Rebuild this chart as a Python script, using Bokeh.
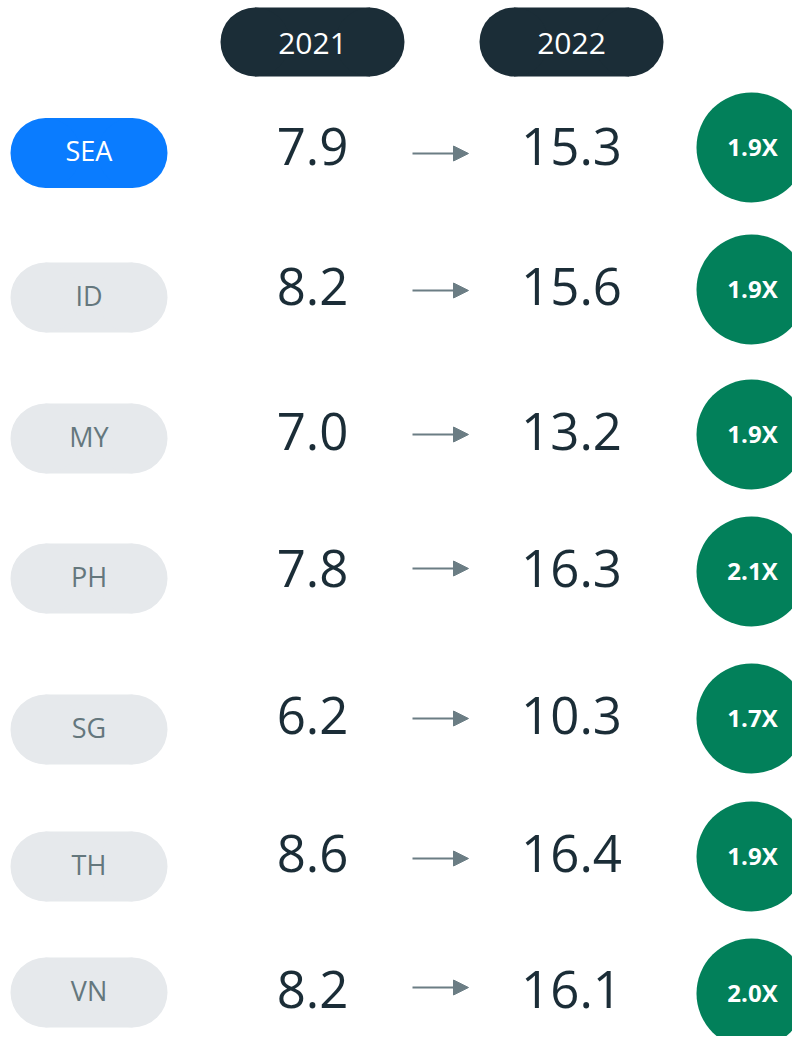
from bokeh.plotting import figure
from bokeh.models import Range1d, ColumnDataSource, Arrow, NormalHead
from bokeh.embed import file_html
from bokeh.resources import INLINE
from bokeh.core.properties import value

# ---- data ----
regions = ["SEA", "ID", "MY", "PH", "SG", "TH", "VN"]
values_2021 = [7.9, 8.2, 7.0, 7.8, 6.2, 8.6, 8.2]
values_2022 = [15.3, 15.6, 13.2, 16.3, 10.3, 16.4, 16.1]
growth = ["1.9X", "1.9X", "1.9X", "2.1X", "1.7X", "1.9X", "2.0X"]
years = ["2021", "2022"]

# ---- layout (screen pixel coordinates) ----
pill_y = [152.5, 297, 438, 578, 729, 866, 992]
val_y = [146, 286, 431, 568, 715, 853, 989]
arrow_y = [153, 290, 434, 568, 718, 858, 987]
circ_y = [147, 289, 434, 571, 718, 856, 993]
col_x = [312, 571]

FONT = "Open Sans"
DARK = "#1b2d37"
W, H = 792, 1036

p = figure(width=W, height=H, x_range=Range1d(0, W), y_range=Range1d(H, 0),
           output_backend="svg", toolbar_location=None, min_border=0)
p.axis.visible = False
p.grid.visible = False
p.outline_line_color = None
p.background_fill_color = "white"
p.border_fill_color = "white"

def pill(xc, yc, w, h, color):
    r = h / 2.0
    p.rect(x=xc, y=yc, width=w - h, height=h, fill_color=color, line_color=None)
    p.circle(x=[xc - (w - h) / 2, xc + (w - h) / 2], y=[yc, yc], radius=r,
             fill_color=color, line_color=None)

# header pills
for xc in col_x:
    pill(xc, 41.5, 184, 69, DARK)
p.text(x=col_x, y=[42.5] * 2, text=years, text_color="white",
       text_font=value(FONT), text_font_size="30px", text_align="center",
       text_baseline="middle")

# region pills
for i, yc in enumerate(pill_y):
    pill(88.5, yc, 157, 70, "#0a7cff" if i == 0 else "#e6e9ec")
p.text(x=[88.5] * len(regions), y=[y - 2.5 for y in pill_y], text=regions,
       text_color=["white"] + ["#64777d"] * (len(regions) - 1),
       text_font=value(FONT), text_font_size="27px", text_align="center",
       text_baseline="middle")

# values
FS = 51
p.text(x=[col_x[0]] * len(regions), y=val_y,
       text=[f"{v:.1f}" for v in values_2021], text_color=DARK,
       text_font=value(FONT), text_font_size=f"{FS}px", text_align="center",
       text_baseline="middle")
p.text(x=[col_x[1]] * len(regions), y=val_y,
       text=[f"{v:.1f}" for v in values_2022], text_color=DARK,
       text_font=value(FONT), text_font_size=f"{FS}px", text_align="center",
       text_baseline="middle")

# arrows
asrc = ColumnDataSource(dict(x0=[412] * len(regions), x1=[468] * len(regions),
                             y=arrow_y))
p.add_layout(Arrow(x_start="x0", x_end="x1", y_start="y", y_end="y", source=asrc,
                   line_color="#6b7d84", line_width=2,
                   end=NormalHead(size=15, fill_color="#6b7d84",
                                  line_color="#6b7d84")))

# growth circles
p.circle(x=[751] * len(regions), y=circ_y, radius=55, fill_color="#02805a",
         line_color=None)
p.text(x=[752] * len(regions), y=[y - 1.5 for y in circ_y], text=growth,
       text_color="white", text_font=value(FONT), text_font_style="bold",
       text_font_size="24px", text_align="center", text_baseline="middle")

open("out.html", "w").write(file_html(p, INLINE))
